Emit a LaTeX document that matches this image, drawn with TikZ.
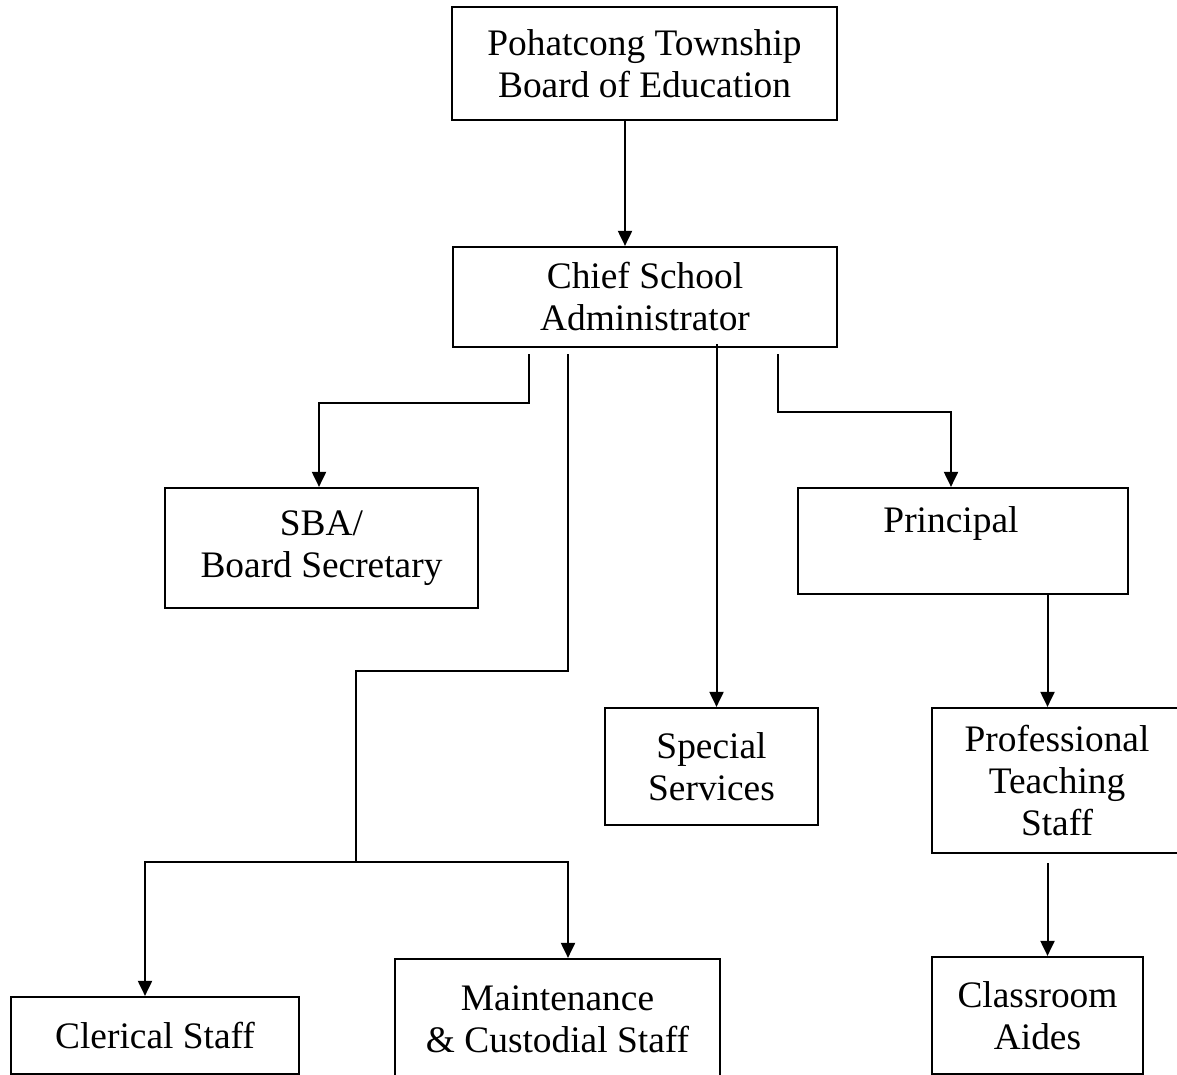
\documentclass[tikz,border=0pt]{standalone}
\usepackage{fontspec}
\setmainfont{Liberation Serif}
\usetikzlibrary{arrows.meta}
\begin{document}
\begin{tikzpicture}[x=1pt, y=-1pt,
    box/.style={draw, line width=2.2pt, inner sep=0pt, align=center,
      font=\fontsize{37.4}{42}\selectfont},
    link/.style={line width=2pt},
    arr/.style={link, -{Triangle[width=14pt,length=15pt]}}]
  \clip (0,0) rectangle (1177,1075);
  \node[box, minimum width=385pt, minimum height=113pt] (board) at (644.5,63.5) {Pohatcong Township\\Board of Education};
  \node[box, minimum width=384pt, minimum height=100pt] (chief) at (645,297) {Chief School\\Administrator};
  \node[box, minimum width=313pt, minimum height=120pt] (sba) at (321.5,548) {SBA/\\Board Secretary};
  \node[box, minimum width=330pt, minimum height=106pt] (prin) at (963,541) {Principal\hspace*{24pt}\\\mbox{}};
  \node[box, minimum width=213pt, minimum height=117pt] (spec) at (711.5,766.5) {Special\\Services};
  \node[box, minimum width=250pt, minimum height=145pt] (prof) at (1057,780.5) {Professional\\Teaching\\Staff};
  \node[box, minimum width=211pt, minimum height=117pt] (class) at (1037.5,1015.5) {Classroom\\Aides};
  \node[box, minimum width=288pt, minimum height=77pt] (cler) at (155,1035.5) {Clerical Staff};
  \node[box, minimum width=325pt, minimum height=121pt] (maint) at (557.5,1019.5) {Maintenance\\\& Custodial Staff};
  \coordinate (split) at (356,862);
  \draw[arr] ([xshift=-19.5pt]board.south) -- ([xshift=-20pt]chief.north);
  \draw[arr] ([xshift=-116pt,yshift=-6pt]chief.south) -- ++(0,49) -| ([xshift=-2.5pt]sba.north);
  \draw[link] ([xshift=-77pt,yshift=-6pt]chief.south) -- ++(0,317) -| (split);
  \draw[arr] (split) -| ([xshift=-10pt]cler.north);
  \draw[arr] (split) -| ([xshift=10.5pt]maint.north);
  \draw[arr] ([xshift=71.5pt,yshift=4pt]chief.south) -- ([xshift=5pt]spec.north);
  \draw[arr] ([xshift=133pt,yshift=-6pt]chief.south) -- ++(0,58) -| ([xshift=-12pt]prin.north);
  \draw[arr] ([xshift=84.5pt]prin.south) -- ([xshift=-9.5pt]prof.north);
  \draw[arr] ([xshift=-9.5pt,yshift=-9pt]prof.south) -- ([xshift=10pt]class.north);
\end{tikzpicture}
\end{document}
